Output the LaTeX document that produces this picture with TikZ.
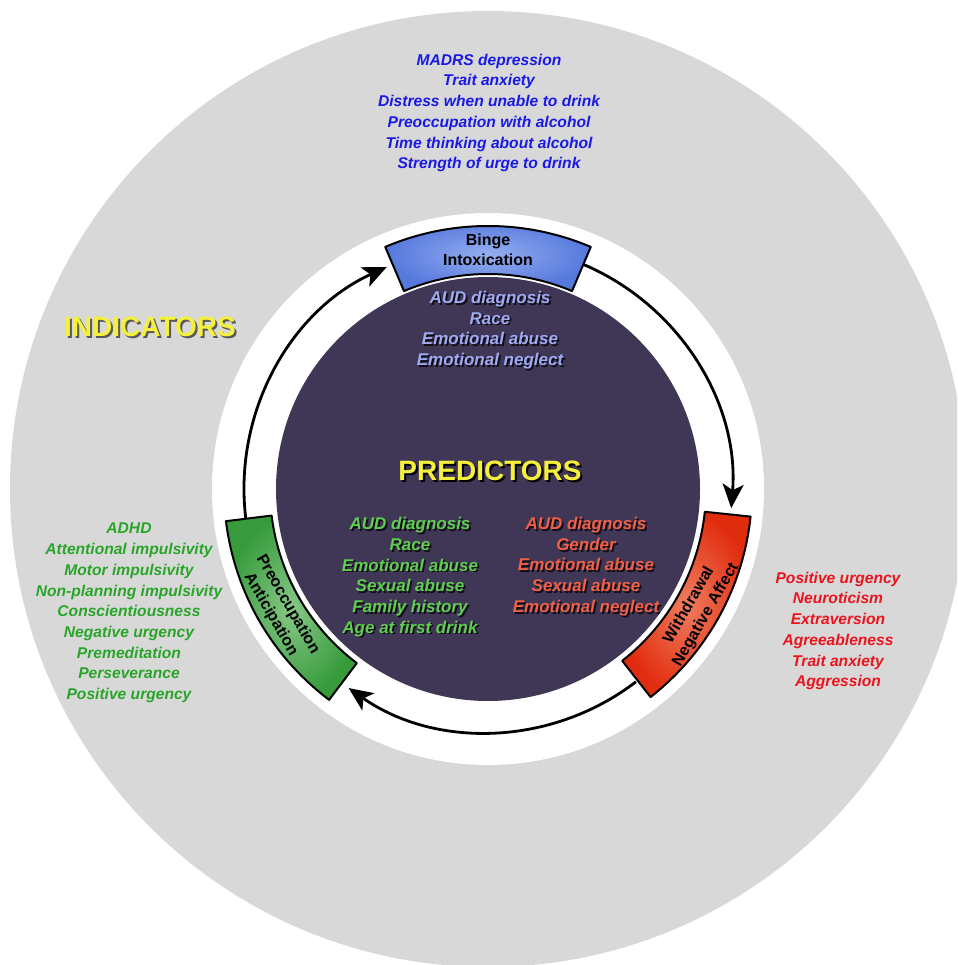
\documentclass[tikz,border=0pt]{standalone}
\usepackage{fontspec}
\setmainfont{Liberation Sans}
\usetikzlibrary{arrows.meta}
\definecolor{bgray}{RGB}{216,216,216}
\definecolor{dpurple}{RGB}{64,54,86}
\definecolor{lav}{RGB}{160,170,242}
\definecolor{ingreen}{RGB}{95,205,80}
\definecolor{inred}{RGB}{240,95,70}
\definecolor{oblue}{RGB}{25,25,230}
\definecolor{ogreen}{RGB}{40,165,40}
\definecolor{ored}{RGB}{235,20,30}
\definecolor{ttlyellow}{RGB}{245,240,60}
\definecolor{bluebase}{RGB}{85,120,220}
\definecolor{bluelight}{RGB}{150,175,240}
\definecolor{redbase}{RGB}{225,45,15}
\definecolor{redlight}{RGB}{240,125,95}
\definecolor{greenbase}{RGB}{55,155,60}
\definecolor{greenlight}{RGB}{135,200,135}
\begin{document}
\begin{tikzpicture}[x=1pt,y=-1pt,
  outtxt/.style={font=\fontsize{15.6}{20.7}\selectfont\bfseries\itshape, align=center, inner sep=0pt},
  intxt/.style={font=\fontsize{17}{20.7}\selectfont\bfseries\itshape, align=center, inner sep=0pt},
  shadowtxt/.style={text=black, opacity=0.75},
  ttl/.style={font=\fontsize{28}{30}\selectfont\bfseries, inner sep=0pt},
  boxtxt/.style={font=\fontsize{16}{19.5}\selectfont\bfseries, align=center, inner sep=0pt, text=black},
  stagebox/.style={draw=black, line width=2pt, line join=round},
  cyclearrow/.style={draw=black, line width=2.8pt, -{Stealth[length=24pt,width=21pt,inset=6pt]}}]
\useasboundingbox (0,0) rectangle (957,965);
\clip (0,0) rectangle (957,965);
\fill[white] (0,0) rectangle (957,965);
\fill[bgray] (488,489) circle[radius=478pt];
\fill[white] (488,489) circle[radius=276pt];
\fill[dpurple] (488,489) circle[radius=212pt];

% outer indicator texts
\node[outtxt, text=oblue] (indbinge) at (489,113) {MADRS depression\\Trait anxiety\\Distress when unable to drink\\Preoccupation with alcohol\\Time thinking about alcohol\\Strength of urge to drink};
\node[outtxt, text=ogreen] (indpre) at (129,613) {ADHD\\Attentional impulsivity\\Motor impulsivity\\Non-planning impulsivity\\Conscientiousness\\Negative urgency\\Premeditation\\Perseverance\\Positive urgency};
\node[outtxt, text=ored] (indwith) at (838,631) {Positive urgency\\Neuroticism\\Extraversion\\Agreeableness\\Trait anxiety\\Aggression};

% titles
\node[ttl, text=black!65] (indttls) at (152,329) {INDICATORS};
\node[ttl, text=ttlyellow] (indttl) at (150,327) {INDICATORS};
\node[ttl, text=black] (predttls) at (492,473) {PREDICTORS};
\node[ttl, text=ttlyellow] (predttl) at (490,471) {PREDICTORS};

% inner predictor texts
\node[intxt, shadowtxt] (prbinges) at (491.8,331.8) {AUD diagnosis\\Race\\Emotional abuse\\Emotional neglect};
\node[intxt, text=lav] (prbinge) at (490,330) {AUD diagnosis\\Race\\Emotional abuse\\Emotional neglect};
\node[intxt, shadowtxt] (prpres) at (411.8,578.8) {AUD diagnosis\\Race\\Emotional abuse\\Sexual abuse\\Family history\\Age at first drink};
\node[intxt, text=ingreen] (prpre) at (410,577) {AUD diagnosis\\Race\\Emotional abuse\\Sexual abuse\\Family history\\Age at first drink};
\node[intxt, shadowtxt] (prwiths) at (587.8,568.3) {AUD diagnosis\\Gender\\Emotional abuse\\Sexual abuse\\Emotional neglect};
\node[intxt, text=inred] (prwith) at (586,566.5) {AUD diagnosis\\Gender\\Emotional abuse\\Sexual abuse\\Emotional neglect};

\begin{scope}[shift={(488,489)}, y=1pt]
  % stage boxes
  \shadedraw[stagebox, inner color=bluelight, outer color=bluebase]
    (67:215) arc[start angle=67, end angle=113, radius=215pt] -- (113:263)
    arc[start angle=113, end angle=67, radius=263pt] -- cycle;
  \shadedraw[stagebox, inner color=redlight, outer color=redbase]
    (-6:218) arc[start angle=-6, end angle=-52, radius=218pt] -- (-52:264)
    arc[start angle=-52, end angle=-6, radius=264pt] -- cycle;
  \shadedraw[stagebox, inner color=greenlight, outer color=greenbase]
    (187:218) arc[start angle=187, end angle=233, radius=218pt] -- (233:264)
    arc[start angle=233, end angle=187, radius=264pt] -- cycle;

  \node[boxtxt] (binge) at (90:239) {Binge\\Intoxication};
  \node[boxtxt, rotate=60] (withdrawal) at (-30:242) {Withdrawal\\Negative Affect};
  \node[boxtxt, rotate=-60] (preocc) at (210:241) {Preoccupation\\Anticipation};

  % arrow end points
  \coordinate (bingeout) at (67:244);
  \coordinate (without) at (-52.5:243);
  \coordinate (preout) at (187:244);

  \draw[cyclearrow] (bingeout) arc[start angle=67, end angle=-4.5, radius=244pt];
  \draw[cyclearrow] (without) arc[start angle=-52.5, end angle=-125, radius=243pt];
  \draw[cyclearrow] (preout) arc[start angle=187, end angle=114.5, radius=244pt];
\end{scope}
\end{tikzpicture}
\end{document}
